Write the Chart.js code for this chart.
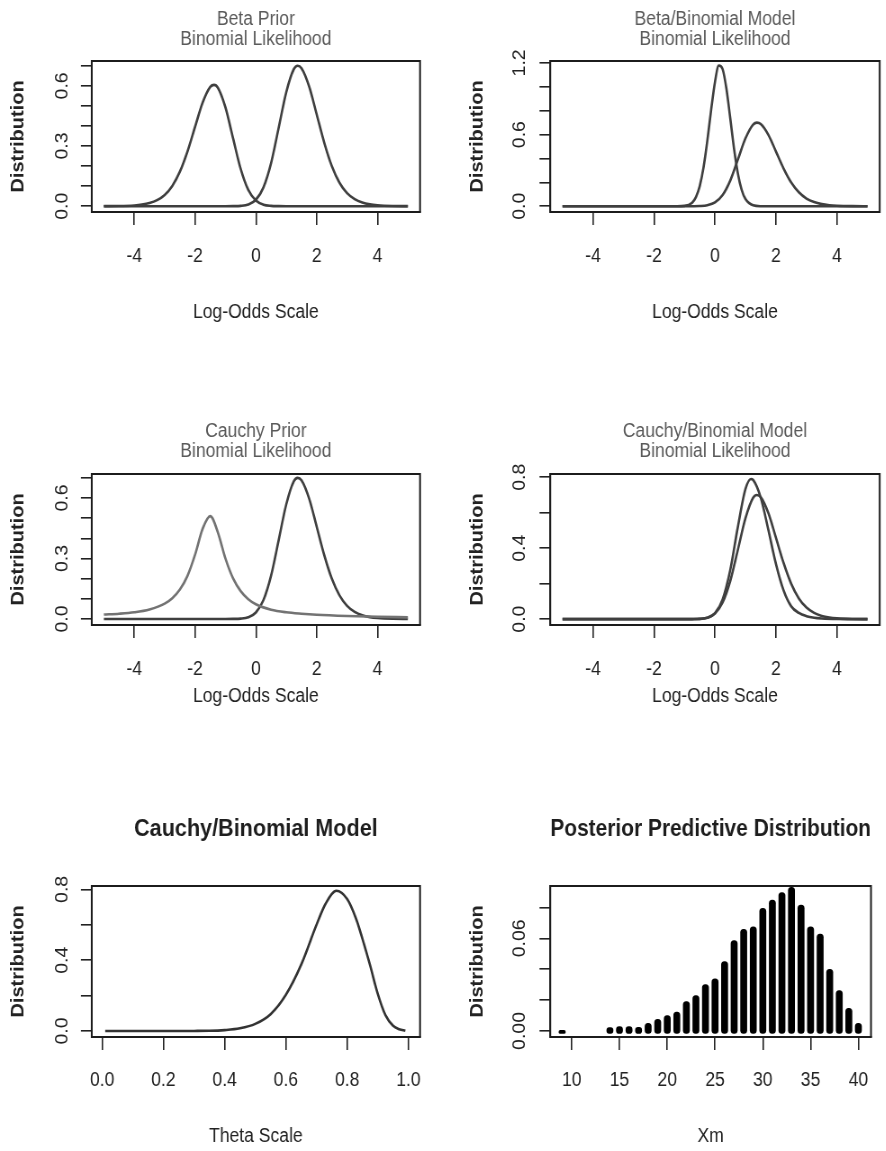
<!DOCTYPE html>
<html><head><meta charset="utf-8">
<script src="https://cdn.jsdelivr.net/npm/chart.js@4.4.1/dist/chart.umd.min.js"></script>
<style>
html,body{margin:0;padding:0;background:#fff;}
#wrap{position:relative;width:886px;height:1151px;overflow:hidden;background:#fff;}
canvas{position:absolute;transform:scaleX(0.9);transform-origin:0 0;}
</style></head><body><div id="wrap">
<canvas id="c1" width="492" height="384" style="left:0px;top:0px"></canvas>
<canvas id="c2" width="492" height="384" style="left:443px;top:0px"></canvas>
<canvas id="c3" width="492" height="384" style="left:0px;top:384px"></canvas>
<canvas id="c4" width="492" height="384" style="left:443px;top:384px"></canvas>
<canvas id="c5" width="492" height="383" style="left:0px;top:768px"></canvas>
<canvas id="c6" width="492" height="383" style="left:443px;top:768px"></canvas>
</div>
<script>
// ---------- data ----------
const betaPriorX = [-5,-4.5,-4,-3.75,-3.5,-3.25,-3,-2.75,-2.5,-2.25,-2,-1.75,-1.5,-1.375,-1.25,-1,-0.75,-0.5,-0.25,0,0.25,0.5,0.75,1,2,3,4,5];
const betaPriorY = [0.0002,0.0008,0.0038,0.0077,0.0154,0.030,0.056,0.101,0.172,0.273,0.396,0.517,0.595,0.605,0.591,0.492,0.338,0.186,0.081,0.028,0.0074,0.0015,0.0003,0,0,0,0,0];

const likeX = [-5,-3,-1,-0.75,-0.5,-0.25,0,0.25,0.5,0.75,1,1.25,1.375,1.5,1.75,2,2.25,2.5,2.75,3,3.25,3.5,3.75,4,4.5,5];
const likeY = [0,0,0,0.0003,0.0017,0.0086,0.032,0.094,0.215,0.391,0.569,0.684,0.700,0.688,0.598,0.458,0.316,0.199,0.117,0.065,0.035,0.018,0.0089,0.0044,0.0009,0.0002];

const betaPostX = [-5,-2,-1.5,-1.25,-1,-0.75,-0.625,-0.5,-0.375,-0.25,-0.125,0,0.125,0.25,0.375,0.5,0.625,0.75,0.875,1,1.25,1.5,2,3,5];
const betaPostY = [0,0,0,0.0001,0.003,0.030,0.077,0.169,0.326,0.550,0.810,1.041,1.178,1.148,0.984,0.737,0.482,0.275,0.137,0.060,0.0076,0.0006,0,0,0];

const cauchyPriorX = [-5,-4.5,-4,-3.5,-3,-2.75,-2.5,-2.25,-2,-1.75,-1.5,-1.25,-1,-0.75,-0.5,-0.25,0,0.5,1,1.5,2,3,4,5];
const cauchyPriorY = [0.022,0.026,0.033,0.047,0.076,0.103,0.146,0.214,0.319,0.448,0.510,0.429,0.299,0.201,0.138,0.098,0.073,0.046,0.033,0.026,0.021,0.015,0.011,0.008];

const cauchyPostX = [-5,-1,-0.5,-0.25,0,0.25,0.5,0.75,1,1.18,1.25,1.5,1.75,2,2.25,2.5,2.75,3,3.25,3.5,4,5];
const cauchyPostY = [0,0,0.0013,0.0077,0.034,0.1115,0.277,0.520,0.734,0.790,0.785,0.685,0.503,0.310,0.161,0.072,0.035,0.017,0.008,0.004,0.001,0];

const thetaX = [0.01,0.1,0.2,0.3,0.35,0.4,0.45,0.5,0.55,0.6,0.65,0.7,0.73,0.765,0.8,0.83,0.85,0.875,0.9,0.925,0.95,0.97,0.99];
const thetaY = [0,0,0,0.0003,0.001,0.005,0.015,0.040,0.095,0.205,0.375,0.60,0.72,0.792,0.745,0.63,0.52,0.37,0.21,0.09,0.03,0.01,0.001];

const predX = [9,14,15,16,17,18,19,20,21,22,23,24,25,26,27,28,29,30,31,32,33,34,35,36,37,38,39,40];
const predY = [0.0005,0.0022,0.0028,0.0028,0.0024,0.005,0.0075,0.0099,0.0123,0.019,0.023,0.030,0.0337,0.0449,0.0585,0.0658,0.0675,0.0794,0.0848,0.0897,0.093,0.0815,0.0675,0.0628,0.0399,0.0261,0.0147,0.005];

// ---------- ticks ----------
const logOddsTicks = [-4,-2,0,2,4];
const logOddsLabels = ['-4','-2','0','2','4'];
const thetaTicks = [0,0.2,0.4,0.6,0.8,1.0];
const thetaLabels = ['0.0','0.2','0.4','0.6','0.8','1.0'];
const xmTicks = [10,15,20,25,30,35,40];
const xmLabels = ['10','15','20','25','30','35','40'];
const yTicks07 = [0,0.1,0.2,0.3,0.4,0.5,0.6,0.7];
const yLabels07 = ['0.0','','','0.3','','','0.6',''];
const yTicks12 = [0,0.2,0.4,0.6,0.8,1.0,1.2];
const yLabels12 = ['0.0','','','0.6','','','1.2'];
const yTicks08 = [0,0.2,0.4,0.6,0.8];
const yLabels08 = ['0.0','','0.4','','0.8'];
const yTicksPred = [0,0.02,0.04,0.06,0.08];
const yLabelsPred = ['0.00','','','0.06',''];

// ---------- drawing ----------
Chart.defaults.font.family = "'Liberation Sans', Arial, Helvetica, sans-serif";
const pts = (xs, ys) => xs.map((x, i) => ({x: x, y: ys[i]}));
const DARK = '#3f3f3f', LIGHT = '#737373', INK = '#222';

const boxPlugin = {
  id: 'rbox',
  afterDraw(chart) {
    const {ctx, chartArea: a} = chart;
    ctx.save();
    ctx.strokeStyle = '#1c1c1c';
    ctx.lineWidth = 2;
    ctx.strokeRect(a.left, a.top, a.right - a.left, a.bottom - a.top);
    ctx.restore();
  }
};

function lineDs(xs, ys, color) {
  return {data: pts(xs, ys), borderColor: color, borderWidth: 2.6, pointRadius: 0,
          cubicInterpolationMode: 'monotone', fill: false};
}

const COL = {
  L: {yWidth: 101.9, padRight: 25.3, yTitlePad: 8.4},
  R: {yWidth: 119.2, padRight: 6.8, yTitlePad: 26.9}
};
const ROW = {
  1: {titleTop: 10, titleBottom: 11, xHeight: 172, xTitlePad: 59.8, tickPad: 20},
  2: {titleTop: 38, titleBottom: 12, xHeight: 143, xTitlePad: 59.8, tickPad: 19.5},
  3: {titleTop: 49, titleBottom: 45, xHeight: 114, xTitlePad: 2.5, tickPad: 19}
};

function panel(id, P) {
  const c = COL[P.col], r = ROW[P.row];
  const bold = P.row === 3;
  return new Chart(document.getElementById(id), {
    type: P.type || 'line',
    data: {datasets: P.datasets},
    options: {
      responsive: false, animation: false, events: [],
      layout: {padding: {left: 0, right: c.padRight, top: 0, bottom: 0}},
      plugins: {
        legend: {display: false}, tooltip: {enabled: false},
        title: {
          display: true, text: P.title, fullSize: false,
          color: bold ? '#1e1e1e' : '#5a5a5a',
          font: bold ? {size: 24, weight: 'bold', lineHeight: '24px'} : {size: 19.5, weight: 'normal', lineHeight: '20px'},
          padding: {top: r.titleTop, bottom: r.titleBottom}
        }
      },
      scales: {
        x: {
          type: 'linear', min: P.xmin, max: P.xmax, offset: false,
          afterFit: s => { s.height = r.xHeight; },
          afterBuildTicks: s => { s.ticks = P.xTicks.map(v => ({value: v})); },
          ticks: {autoSkip: false, minRotation: 0, maxRotation: 0, padding: r.tickPad, color: INK,
                  font: {size: 19.5}, callback: (v, i) => P.xLabels[i]},
          grid: {drawOnChartArea: false, drawTicks: true, tickLength: 13, color: INK, lineWidth: 1.6, offset: false},
          border: {display: true, color: INK, width: 1.6},
          title: {display: true, text: P.xTitle, color: INK, font: {size: 19.5}, padding: {top: 0, bottom: r.xTitlePad}}
        },
        y: {
          type: 'linear', min: P.ymin, max: P.ymax,
          afterFit: s => { s.width = c.yWidth; },
          afterBuildTicks: s => { s.ticks = P.yTicks.map(v => ({value: v})); },
          ticks: {autoSkip: false, minRotation: 90, maxRotation: 90, crossAlign: 'center',
                  padding: P.yTickPad, color: INK, font: {size: 19.5}, callback: (v, i) => P.yLabels[i]},
          grid: {drawOnChartArea: false, drawTicks: true, tickLength: 12, color: INK, lineWidth: 1.6},
          border: {display: true, color: INK, width: 1.6},
          title: {display: true, text: 'Distribution', color: INK, font: {size: 20, weight: 'bold'},
                  padding: {top: c.yTitlePad, bottom: 0}}
        }
      }
    },
    plugins: [boxPlugin]
  });
}

panel('c1', {col: 'L', row: 1, title: ['Beta Prior', 'Binomial Likelihood'], xTitle: 'Log-Odds Scale',
  xmin: -5.4, xmax: 5.4, ymin: -0.029, ymax: 0.724, xTicks: logOddsTicks, xLabels: logOddsLabels,
  yTicks: yTicks07, yLabels: yLabels07, yTickPad: 7.0,
  datasets: [lineDs(betaPriorX, betaPriorY, DARK), lineDs(likeX, likeY, DARK)]});

panel('c2', {col: 'R', row: 1, title: ['Beta/Binomial Model', 'Binomial Likelihood'], xTitle: 'Log-Odds Scale',
  xmin: -5.4, xmax: 5.4, ymin: -0.048, ymax: 1.216, xTicks: logOddsTicks, xLabels: logOddsLabels,
  yTicks: yTicks12, yLabels: yLabels12, yTickPad: 7.6,
  datasets: [lineDs(betaPostX, betaPostY, DARK), lineDs(likeX, likeY, DARK)]});

panel('c3', {col: 'L', row: 2, title: ['Cauchy Prior', 'Binomial Likelihood'], xTitle: 'Log-Odds Scale',
  xmin: -5.4, xmax: 5.4, ymin: -0.030, ymax: 0.719, xTicks: logOddsTicks, xLabels: logOddsLabels,
  yTicks: yTicks07, yLabels: yLabels07, yTickPad: 7.0,
  datasets: [lineDs(cauchyPriorX, cauchyPriorY, LIGHT), lineDs(likeX, likeY, DARK)]});

panel('c4', {col: 'R', row: 2, title: ['Cauchy/Binomial Model', 'Binomial Likelihood'], xTitle: 'Log-Odds Scale',
  xmin: -5.4, xmax: 5.4, ymin: -0.033, ymax: 0.818, xTicks: logOddsTicks, xLabels: logOddsLabels,
  yTicks: yTicks08, yLabels: yLabels08, yTickPad: 7.6,
  datasets: [lineDs(cauchyPostX, cauchyPostY, DARK), lineDs(likeX, likeY, DARK)]});

panel('c5', {col: 'L', row: 3, title: 'Cauchy/Binomial Model', xTitle: 'Theta Scale',
  xmin: -0.034, xmax: 1.038, ymin: -0.034, ymax: 0.819, xTicks: thetaTicks, xLabels: thetaLabels,
  yTicks: yTicks08, yLabels: yLabels08, yTickPad: 7.0,
  datasets: [lineDs(thetaX, thetaY, '#333')]});

panel('c6', {col: 'R', row: 3, type: 'bar', title: 'Posterior Predictive Distribution', xTitle: 'Xm',
  xmin: 7.76, xmax: 41.32, ymin: -0.0039, ymax: 0.0939, xTicks: xmTicks, xLabels: xmLabels,
  yTicks: yTicksPred, yLabels: yLabelsPred, yTickPad: 2.2,
  datasets: [{data: pts(predX, predY), backgroundColor: '#000', borderWidth: 0, barThickness: 7,
              borderRadius: 3.5, borderSkipped: false, base: -0.0016}]});
</script>
</body></html>
